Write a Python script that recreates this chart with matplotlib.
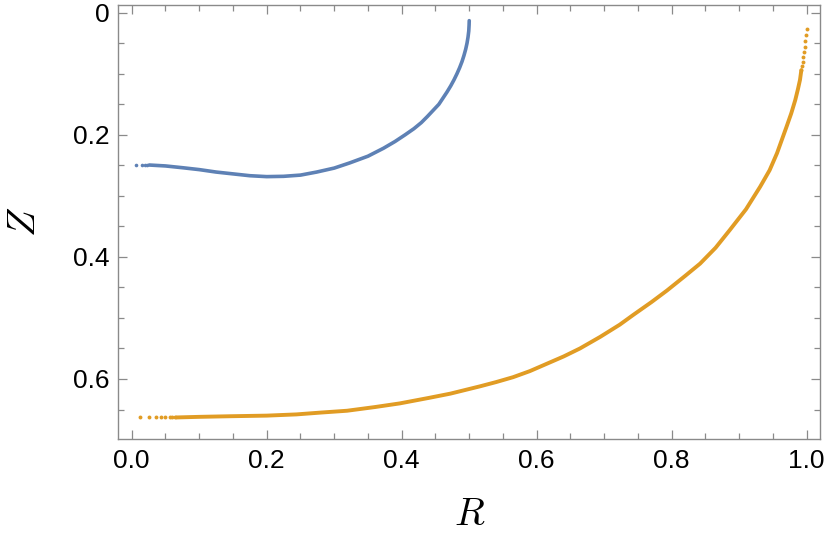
import numpy as np
import matplotlib.pyplot as plt
from matplotlib.ticker import MultipleLocator

plt.rcParams['font.family'] = ['Liberation Sans', 'DejaVu Sans']
plt.rcParams['mathtext.fontset'] = 'cm'

# blue trajectory: sparse start points, then the dense part
blue_dots_r = [0.006, 0.015, 0.020, 0.023]
blue_dots_z = [0.249, 0.249, 0.249, 0.249]
blue_r = [0.026, 0.05, 0.076, 0.10, 0.125, 0.15, 0.175, 0.20, 0.225, 0.25, 0.274, 0.30,
          0.323, 0.35, 0.373, 0.39, 0.405, 0.418, 0.429, 0.438, 0.4465, 0.455, 0.461,
          0.467, 0.4725, 0.4774, 0.4818, 0.4858, 0.4893, 0.4922, 0.4947, 0.4967,
          0.4982, 0.4993, 0.4998, 0.500]
blue_z = [0.2495, 0.251, 0.254, 0.257, 0.261, 0.264, 0.267, 0.2685, 0.268, 0.266, 0.261,
          0.2545, 0.246, 0.235, 0.222, 0.211, 0.200, 0.190, 0.180, 0.170, 0.160, 0.150,
          0.140, 0.130, 0.120, 0.110, 0.100, 0.090, 0.080, 0.070, 0.060, 0.050,
          0.040, 0.030, 0.020, 0.013]

# orange trajectory
orange_dots_r = [0.012, 0.026, 0.036, 0.044, 0.050, 0.056, 0.060, 0.064,
                 0.992, 0.993, 0.994, 0.995, 0.996, 0.997, 0.998, 0.999, 1.0]
orange_dots_z = [0.663, 0.663, 0.663, 0.663, 0.663, 0.663, 0.663, 0.663,
                 0.094, 0.087, 0.080, 0.072, 0.064, 0.056, 0.046, 0.037, 0.026]
orange_r = [0.066, 0.10, 0.146, 0.20, 0.244, 0.28, 0.319, 0.36, 0.397, 0.44, 0.472,
            0.516, 0.54, 0.565, 0.59, 0.615, 0.64, 0.664, 0.694, 0.723, 0.743, 0.77,
            0.793, 0.82, 0.842, 0.865, 0.886, 0.91, 0.931, 0.945, 0.956, 0.970, 0.977,
            0.983, 0.987, 0.990, 0.992]
orange_z = [0.663, 0.662, 0.661, 0.660, 0.658, 0.655, 0.652, 0.646, 0.640, 0.631, 0.624,
            0.612, 0.605, 0.597, 0.587, 0.575, 0.563, 0.550, 0.531, 0.511, 0.495, 0.474,
            0.455, 0.431, 0.411, 0.385, 0.356, 0.322, 0.285, 0.258, 0.230, 0.187, 0.165,
            0.143, 0.125, 0.110, 0.094]

x_ticks = [0.0, 0.2, 0.4, 0.6, 0.8, 1.0]
x_labels = ["0.0", "0.2", "0.4", "0.6", "0.8", "1.0"]
y_ticks = [0.0, 0.2, 0.4, 0.6]
y_labels = ["0", "0.2", "0.4", "0.6"]

blue = '#5E81B5'
orange = '#E19C24'
frame = '#8a8a8a'

fig = plt.figure(figsize=(8.3, 5.49), dpi=100)
ax = fig.add_axes([0.1422, 0.1998, 0.8458, 0.7916])

ax.plot(blue_r, blue_z, color=blue, lw=2.6, solid_capstyle='round', solid_joinstyle='round')
ax.plot(blue_dots_r, blue_dots_z, 'o', color=blue, ms=2.6, mew=0)
ax.plot(orange_r, orange_z, color=orange, lw=2.8, solid_capstyle='round', solid_joinstyle='round')
ax.plot(orange_dots_r, orange_dots_z, 'o', color=orange, ms=2.8, mew=0)

ax.set_xlim(-0.0203, 1.0197)
ax.set_ylim(0.6988, -0.0131)

ax.set_xticks(x_ticks)
ax.set_xticklabels(x_labels)
ax.set_yticks(y_ticks)
ax.set_yticklabels(y_labels)
ax.xaxis.set_minor_locator(MultipleLocator(0.05))
ax.yaxis.set_minor_locator(MultipleLocator(0.05))

ax.tick_params(which='both', direction='in', top=True, right=True, color=frame,
               width=0.9, labelsize=19, labelcolor='black')
ax.tick_params(which='major', length=6.5)
ax.tick_params(which='minor', length=4.2)
ax.tick_params(axis='x', pad=7)
ax.tick_params(axis='y', pad=6)
for s in ax.spines.values():
    s.set_color(frame)
    s.set_linewidth(1.0)

fig.text(470 / 830, 1 - 515 / 549, '$R$', fontsize=28, ha='center', va='center')
fig.text(25 / 830, 1 - 222 / 549, '$Z$', fontsize=28, ha='center', va='center', rotation=90)

fig.savefig('out.png', dpi=100)
